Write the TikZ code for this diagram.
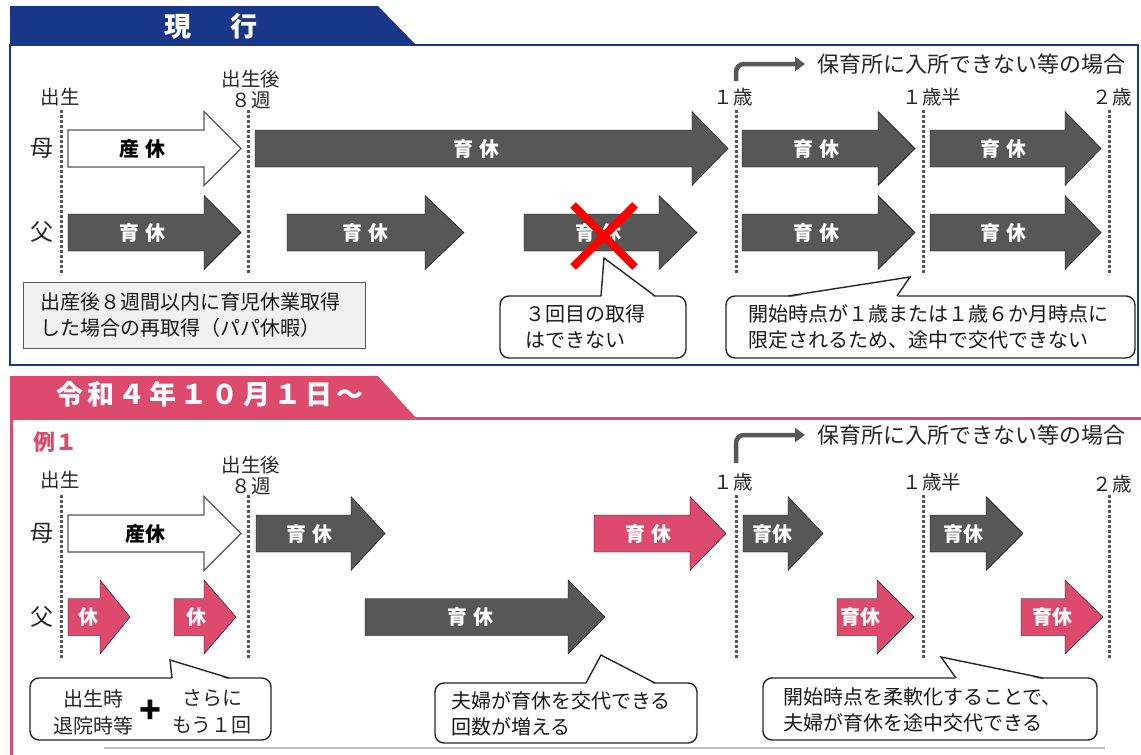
\documentclass[tikz,border=0pt]{standalone}
\usepackage{fontspec}
\setmainfont{Noto Sans CJK JP}
\usetikzlibrary{arrows.meta}

\definecolor{navy}{RGB}{24,54,138}
\definecolor{rose}{RGB}{222,73,110}
\definecolor{slate}{RGB}{87,87,87}
\definecolor{boxgray}{RGB}{240,240,240}

% block arrow: style, left x, head base x, tip x, centre y
\newcommand{\blockarrow}[5]{%
  \draw[#1] (#2,#5-18.5) -- (#3,#5-18.5) -- (#3,#5-37) -- (#4,#5) -- (#3,#5+37) -- (#3,#5+18.5) -- (#2,#5+18.5) -- cycle;}

\begin{document}
\begin{tikzpicture}[x=1pt,y=-1pt,
    lbl/.style={font=\fontsize{19.5}{21}\selectfont, text=black!85, align=center, inner sep=0pt},
    row/.style={font=\fontsize{23}{24}\selectfont, text=black!85, inner sep=0pt},
    tag/.style={font=\fontsize{20}{26}\selectfont, text=black!90, align=left, anchor=west, inner sep=0pt},
    onarr/.style={font=\bfseries\fontsize{20}{21}\selectfont, text=white, inner sep=0pt},
    onwhite/.style={font=\bfseries\fontsize{20}{21}\selectfont, text=black, inner sep=0pt},
    headtxt/.style={font=\bfseries\fontsize{27}{30}\selectfont, text=white, inner sep=0pt},
    hoiku/.style={font=\fontsize{22}{24}\selectfont, text=black!85, anchor=west, inner sep=0pt},
    grayarr/.style={fill=slate},
    rosearr/.style={fill=rose},
    whitearr/.style={fill=white, draw=slate, line width=1.1pt},
    dots/.style={slate, line width=3pt, dash pattern=on 2.5pt off 2.5pt},
    callbox/.style={draw=black!85, fill=white, line width=1.4pt, rounded corners=9pt},
    tail/.style={draw=black!85, line width=1.4pt},
    elbow/.style={slate, line width=4.5pt, rounded corners=8pt, -{Triangle[length=10pt,width=14pt]}, shorten >=12pt}]

  \useasboundingbox (0,0) rectangle (1141,755);

  % ---- current system
  \draw[navy, line width=2pt] (10,45) rectangle (1138,365);
  \fill[navy] (10,6) -- (378,6) -- (416,45) -- (10,45) -- cycle;
  \node[headtxt] (curHead) at (211,26) {現\hspace{40pt}行};

  \node[lbl] (birthA) at (60,97) {出生};
  \node[lbl] (weekA) at (251,90) {出生後\\８週};
  \node[lbl] (oneA) at (733,97) {１歳};
  \node[lbl] (halfA) at (932,97) {１歳半};
  \node[lbl] (twoA) at (1112,97) {２歳};

  \foreach \x in {61,248,736,923,1109} {
    \draw[dots] (\x,110) -- (\x,273);
    \draw[dots] (\x,495) -- (\x,658);
  }

  \coordinate (upA) at (736,81);
  \node[hoiku] (nurseryA) at (817,64) {保育所に入所できない等の場合};
  \draw[elbow] (upA) |- (nurseryA.west);

  \node[row] (motherA) at (42,148) {母};
  \node[row] (fatherA) at (42,232) {父};

  \blockarrow{whitearr}{68}{204}{241}{148.5}
  \blockarrow{grayarr}{255}{692}{728}{148.5}
  \blockarrow{grayarr}{742}{878}{915}{148.5}
  \blockarrow{grayarr}{930}{1065}{1101}{148.5}
  \blockarrow{grayarr}{68}{204}{241}{232.5}
  \blockarrow{grayarr}{287}{425}{464}{232.5}
  \blockarrow{grayarr}{524}{659}{697}{232.5}
  \blockarrow{grayarr}{742}{878}{915}{232.5}
  \blockarrow{grayarr}{930}{1065}{1101}{232.5}

  \node[onwhite] (mSanA) at (142,148.5) {産\hspace{6pt}休};
  \node[onarr] (mIkuA) at (476,148.5) {育\hspace{6pt}休};
  \node[onarr] (mIkuB) at (816,148.5) {育\hspace{6pt}休};
  \node[onarr] (mIkuC) at (1003,148.5) {育\hspace{6pt}休};
  \node[onarr] (fIkuA) at (142,232.5) {育\hspace{6pt}休};
  \node[onarr] (fIkuB) at (365,232.5) {育\hspace{6pt}休};
  \node[onarr] (fIkuC) at (598,232.5) {育\hspace{6pt}休};
  \node[onarr] (fIkuD) at (816,232.5) {育\hspace{6pt}休};
  \node[onarr] (fIkuE) at (1003,232.5) {育\hspace{6pt}休};

  \draw[red, line width=8pt] (573,205) -- (635,267) (635,205) -- (573,267);

  \node[draw=slate, fill=boxgray, line width=1.3pt, minimum width=342pt, minimum height=66pt, anchor=north west] (papaBox) at (23,282) {};
  \node[tag] (papaNote) at (40,315) {出産後８週間以内に育児休業取得\\した場合の再取得（パパ休暇）};

  \draw[callbox] (500,296) rectangle (686,358);
  \fill[white] (601,297.5) -- (604,258) -- (655,297.5) -- cycle;
  \draw[tail] (601,296) -- (604,258) -- (655,296);
  \node[tag] (thirdNo) at (525,327) {３回目の取得\\はできない};

  \draw[callbox] (726,296) rectangle (1135,358);
  \fill[white] (788,297.5) -- (910,277) -- (897,297.5) -- cycle;
  \draw[tail] (788,296) -- (910,277) -- (897,296);
  \node[tag] (fixedStart) at (748,327) {開始時点が１歳または１歳６か月時点に\\限定されるため、途中で交代できない};

  % ---- from R4.10.1
  \draw[rose, line width=3pt] (10,418) -- (1141,418);
  \draw[rose, line width=3pt] (11,418) -- (11,755);
  \fill[rose] (10,376) -- (378,376) -- (416,418) -- (10,418) -- cycle;
  \node[headtxt] (newHead) at (210,394) {\addfontfeature{LetterSpace=15}令和４年１０月１日～};
  \node[font=\bfseries\fontsize{22}{24}\selectfont, text=rose, inner sep=0pt] (exOne) at (56,442) {例１};

  \node[lbl] (birthB) at (60,480) {出生};
  \node[lbl] (weekB) at (251,476) {出生後\\８週};
  \node[lbl] (oneB) at (733,482) {１歳};
  \node[lbl] (halfB) at (932,482) {１歳半};
  \node[lbl] (twoB) at (1112,484) {２歳};

  \coordinate (upB) at (736,463);
  \node[hoiku] (nurseryB) at (817,435) {保育所に入所できない等の場合};
  \draw[elbow] (upB) |- (nurseryB.west);

  \node[row] (motherB) at (42,533) {母};
  \node[row] (fatherB) at (42,617) {父};

  \blockarrow{whitearr}{68}{204}{241}{533.5}
  \blockarrow{grayarr}{256}{351}{385}{533.5}
  \blockarrow{rosearr}{594}{690}{726}{533.5}
  \blockarrow{grayarr}{743}{788}{823}{533.5}
  \blockarrow{grayarr}{930}{986}{1023}{533.5}
  \blockarrow{rosearr}{68}{100}{130}{617}
  \blockarrow{rosearr}{174}{204}{236}{617}
  \blockarrow{grayarr}{365}{568}{605}{617}
  \blockarrow{rosearr}{837}{877}{914}{617}
  \blockarrow{rosearr}{1021}{1065}{1103}{617}

  \node[onwhite] (mSanB) at (145,533.5) {産休};
  \node[onarr] (mIkuD) at (309,533.5) {育\hspace{6pt}休};
  \node[onarr] (mIkuE) at (648,533.5) {育\hspace{6pt}休};
  \node[onarr] (mIkuF) at (772,533.5) {育休};
  \node[onarr] (mIkuG) at (963,533.5) {育休};
  \node[onarr] (fKyuA) at (88,617) {休};
  \node[onarr] (fKyuB) at (196,617) {休};
  \node[onarr] (fIkuF) at (470,617) {育\hspace{6pt}休};
  \node[onarr] (fIkuG) at (860,617) {育休};
  \node[onarr] (fIkuH) at (1052,617) {育休};

  \draw[black!25, line width=1.2pt] (104,748) -- (1105,748);

  \draw[callbox] (30,678) rectangle (271,740);
  \fill[white] (172,679.5) -- (170,660) -- (229,679.5) -- cycle;
  \draw[tail] (172,678) -- (170,660) -- (229,678);
  \node[lbl, font=\fontsize{20}{27}\selectfont] (atBirth) at (93,712) {出生時\\退院時等};
  \node[font=\bfseries\fontsize{36}{36}\selectfont, inner sep=0pt] (plus) at (150,712) {+};
  \node[lbl, font=\fontsize{20}{27}\selectfont] (oneMore) at (212,712) {さらに\\もう１回};

  \draw[callbox] (435,683) rectangle (697,743);
  \fill[white] (586,684.5) -- (601,655) -- (655,684.5) -- cycle;
  \draw[tail] (586,683) -- (601,655) -- (655,683);
  \node[tag] (moreSwaps) at (451,714) {夫婦が育休を交代できる\\回数が増える};

  \draw[callbox] (763,678) rectangle (1097,740);
  \fill[white] (956,679.5) -- (941,657) -- (1043,679.5) -- cycle;
  \draw[tail] (956,678) -- (941,657) -- (1043,678);
  \node[tag] (flexStart) at (783,710) {開始時点を柔軟化することで、\\夫婦が育休を途中交代できる};
\end{tikzpicture}
\end{document}
